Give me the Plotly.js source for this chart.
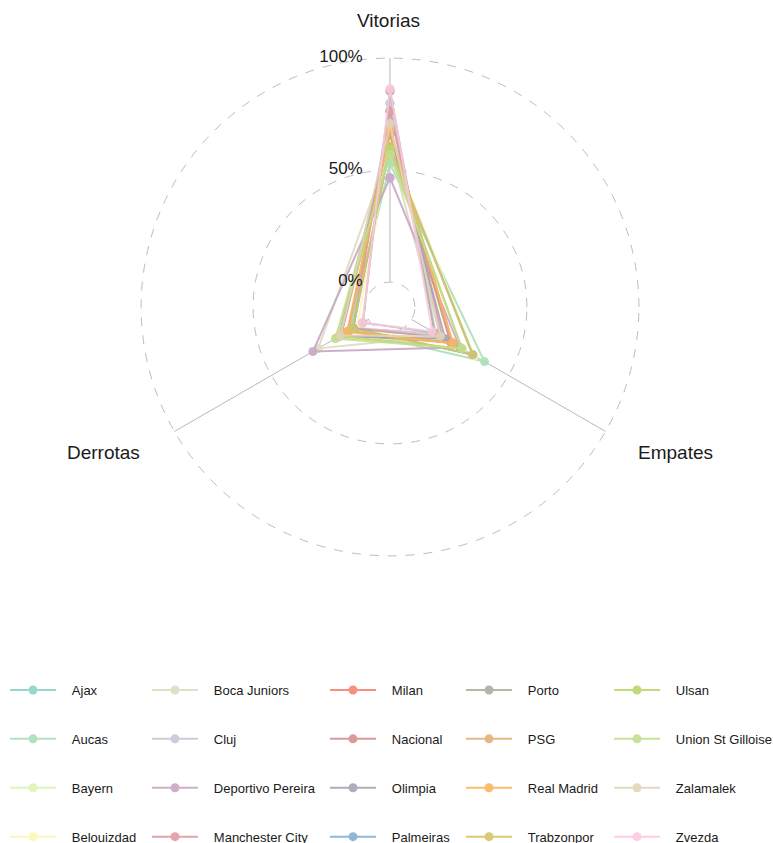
<!DOCTYPE html>
<html>
<head>
<meta charset="utf-8">
<script src="https://cdn.plot.ly/plotly-3.0.1.min.js"></script>
<style>html,body{margin:0;padding:0;background:#fff;}#chart{width:773px;height:843px;}</style>
</head>
<body>
<div id="chart"></div>
<script>
// ---- data ----
const axisLabels = ['Vitorias', 'Empates', 'Derrotas'];
const teams = ['Ajax','Aucas','Bayern','Belouizdad','Boca Juniors','Cluj','Deportivo Pereira','Manchester City','Milan','Nacional','Olimpia','Palmeiras','Porto','PSG','Real Madrid','Trabzonpor','Ulsan','Union St Gilloise','Zalamalek','Zvezda'];
const vitorias = [0.765,0.528,0.630,0.618,0.593,0.798,0.466,0.763,0.684,0.660,0.675,0.605,0.853,0.684,0.677,0.605,0.590,0.571,0.707,0.863];
const empates  = [0.147,0.376,0.200,0.324,0.148,0.125,0.248,0.158,0.211,0.200,0.173,0.316,0.118,0.211,0.213,0.314,0.260,0.259,0.149,0.107];
const derrotas = [0.088,0.096,0.170,0.059,0.259,0.077,0.286,0.079,0.105,0.140,0.152,0.079,0.029,0.105,0.110,0.081,0.150,0.170,0.144,0.030];
const colors = ['#8dd3c7','#abdfb9','#dff5b2','#fbf8b3','#dedcc3','#c9c6db','#c8a7c5','#e49aa0','#f98373','#d98f8f','#a9a3b8','#86b0cf','#b0ae9f','#e6b07c','#f8b660','#d6c56a','#bcd86a','#c4dd8e','#e2d4b8','#fcc8e0'];
const gridVals = [0, 0.5, 1];
const gridText = ['0%', '50%', '100%'];

const FONT = 'Liberation Sans, Arial, sans-serif';
const traces = [];

// spokes from 0% to 100%
axisLabels.forEach(a => {
  traces.push({type:'scatterpolar', r:[0,1], theta:[a,a], mode:'lines',
    line:{color:'#b8b8b8', width:1}, showlegend:false, hoverinfo:'skip'});
});

const legendNames = ['legend','legend2','legend3','legend4','legend5'];
const PAD = '\u00a0\u00a0\u00a0';
teams.forEach((t, i) => {
  traces.push({
    type:'scatterpolar',
    name:PAD + t,
    r:[vitorias[i], empates[i], derrotas[i], vitorias[i]],
    theta:[axisLabels[0], axisLabels[1], axisLabels[2], axisLabels[0]],
    mode:'lines+markers',
    line:{color:colors[i], width:2},
    marker:{color:colors[i], size:9},
    opacity:0.9,
    legend:legendNames[Math.floor(i/4)],
    legendgroup:t
  });
});

// radial labels
traces.push({type:'scatterpolar', r:gridVals, theta:gridVals.map(()=>axisLabels[0]),
  mode:'markers+text', text:gridText, textposition:'middle left',
  marker:{size:42, opacity:0}, textfont:{family:FONT, size:17, color:'#1a1a1a'},
  cliponaxis:false, showlegend:false, hoverinfo:'skip'});

const W = 773, H = 843;
const rMin = -1/9, rMax = 1.006;
const cx = 390, cy = 307, R = 224 * (rMax - rMin);

const legendX = [5, 147, 325, 461, 609];
const layout = {
  width:W, height:H,
  margin:{l:0, r:0, t:0, b:0, autoexpand:false},
  paper_bgcolor:'#fff',
  font:{family:FONT, color:'#1a1a1a'},
  showlegend:true,
  polar:{
    domain:{x:[(cx-R)/W, (cx+R)/W], y:[1-(cy+R)/H, 1-(cy-R)/H]},
    bgcolor:'rgba(0,0,0,0)',
    radialaxis:{range:[rMin, rMax], tickvals:gridVals, showticklabels:false, ticks:'',
      showline:false, gridcolor:'#bdbdbd', griddash:'dash', gridwidth:1, angle:90},
    angularaxis:{type:'category', categoryarray:axisLabels, direction:'clockwise', rotation:90,
      showgrid:false, showline:false, showticklabels:false, ticks:''}
  },
  annotations:[
    {text:'Vitorias', x:388/W, y:1-20/H, xref:'paper', yref:'paper', showarrow:false, font:{size:19, color:'#1a1a1a'}, xanchor:'center', yanchor:'middle'},
    {text:'Empates', x:675/W, y:1-452/H, xref:'paper', yref:'paper', showarrow:false, font:{size:19, color:'#1a1a1a'}, xanchor:'center', yanchor:'middle'},
    {text:'Derrotas', x:104/W, y:1-452/H, xref:'paper', yref:'paper', showarrow:false, font:{size:19, color:'#1a1a1a'}, xanchor:'center', yanchor:'middle'}
  ]
};
legendNames.forEach((ln, k) => {
  layout[ln] = {x:legendX[k]/W, y:1-675/H, xanchor:'left', yanchor:'top', orientation:'v',
    bgcolor:'rgba(0,0,0,0)', font:{size:13, color:'#1a1a1a'}, itemwidth:46, tracegroupgap:29,
    itemclick:false, itemdoubleclick:false};
});

Plotly.newPlot('chart', traces, layout, {displayModeBar:false, staticPlot:true});
</script>
</body>
</html>
